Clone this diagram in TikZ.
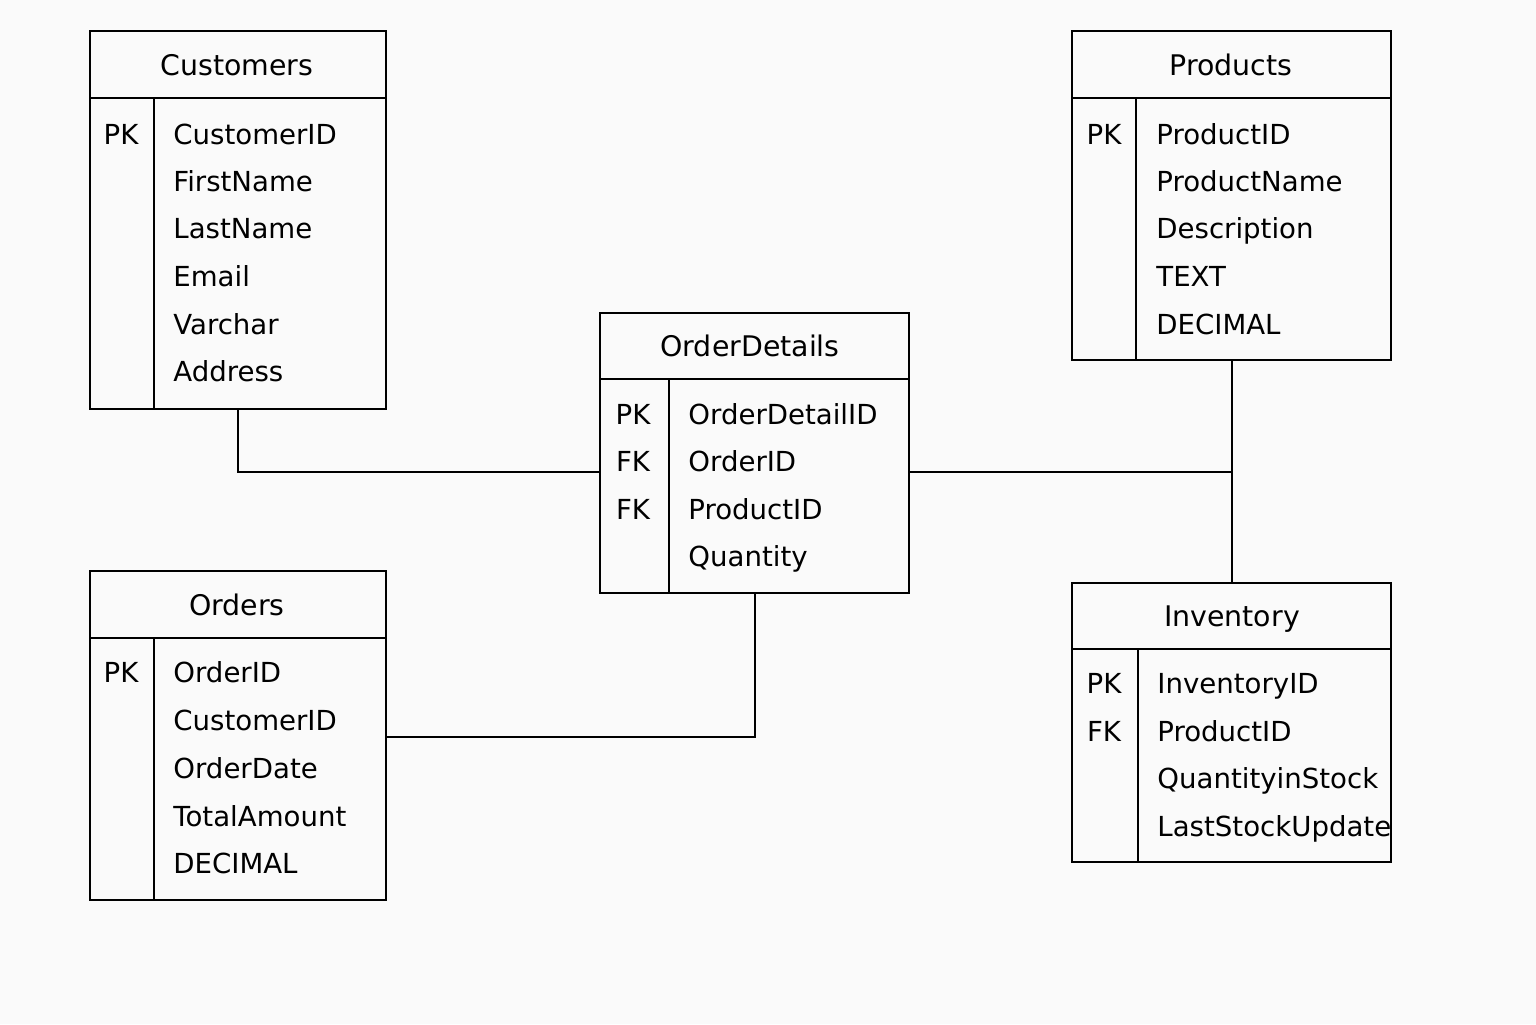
\documentclass[tikz,border=0pt]{standalone}
\usepackage{fontspec}
\setmainfont{DejaVu Sans}
\usepackage{tikz}
\usetikzlibrary{positioning, calc}

\begin{document}
\begin{tikzpicture}[x=0.5pt, y=-0.5pt,
	table/.style={rectangle, draw, line width=1pt, inner sep=0pt, anchor=north west},
	title/.style={anchor=base, inner sep=0pt, font=\fontsize{14.2}{16}\selectfont},
	keyname/.style={anchor=base, inner sep=0pt, font=\fontsize{13.8}{16}\selectfont},
	field/.style={anchor=base west, inner sep=0pt, font=\fontsize{13.8}{16}\selectfont},
	rule/.style={line width=1pt},
	link/.style={line width=1pt}]
			\fill[black!2] (0,0) rectangle (1536,1024);
			\useasboundingbox (0,0) rectangle (1536,1024);
			
			% Customers
			\node[table, minimum width=148pt, minimum height=189pt] (cust) at (89,30) {};
			\draw[rule] (89,98) -- (385,98);
			\draw[rule] (154,98) -- (154,408);
			\node[title] (custT) at (237,75.5) {Customers};
			\node[keyname] (custK1) at (121,144.5) {PK};
			\node[field] (custF1) at (173,144.5) {CustomerID};
			\node[field] (custF2) at (173,191.5) {FirstName};
			\node[field] (custF3) at (173,238.5) {LastName};
			\node[field] (custF4) at (173,286.5) {Email};
			\node[field] (custF5) at (173,334.5) {Varchar};
			\node[field] (custF6) at (173,381.5) {Address};
			
			% Products
			\node[table, minimum width=159.5pt, minimum height=164.5pt] (prod) at (1071,30) {};
			\draw[rule] (1071,98) -- (1390,98);
			\draw[rule] (1136,98) -- (1136,359);
			\node[title] (prodT) at (1231,75.5) {Products};
			\node[keyname] (prodK1) at (1104,144.5) {PK};
			\node[field] (prodF1) at (1156,144.5) {ProductID};
			\node[field] (prodF2) at (1156,191.5) {ProductName};
			\node[field] (prodF3) at (1156,238.5) {Description};
			\node[field] (prodF4) at (1156,286.5) {TEXT};
			\node[field] (prodF5) at (1156,334.5) {DECIMAL};
			
			% OrderDetails
			\node[table, minimum width=154.5pt, minimum height=140pt] (od) at (599,312) {};
			\draw[rule] (599,379) -- (908,379);
			\draw[rule] (669,379) -- (669,592);
			\node[title] (odT) at (750,356.5) {OrderDetails};
			\node[keyname] (odK1) at (633,424.5) {PK};
			\node[keyname] (odK2) at (633,471.5) {FK};
			\node[keyname] (odK3) at (633,519.5) {FK};
			\node[field] (odF1) at (688,424.5) {OrderDetailID};
			\node[field] (odF2) at (688,471.5) {OrderID};
			\node[field] (odF3) at (688,519.5) {ProductID};
			\node[field] (odF4) at (688,566.5) {Quantity};
			
			% Orders
			\node[table, minimum width=148pt, minimum height=164.5pt] (ord) at (89,570) {};
			\draw[rule] (89,638) -- (385,638);
			\draw[rule] (154,638) -- (154,899);
			\node[title] (ordT) at (237,615.5) {Orders};
			\node[keyname] (ordK1) at (121,682.5) {PK};
			\node[field] (ordF1) at (173,682.5) {OrderID};
			\node[field] (ordF2) at (173,730.5) {CustomerID};
			\node[field] (ordF3) at (173,778.5) {OrderDate};
			\node[field] (ordF4) at (173,826.5) {TotalAmount};
			\node[field] (ordF5) at (173,873.5) {DECIMAL};
			
			% Inventory
			\node[table, minimum width=159.5pt, minimum height=139.5pt] (inv) at (1071,582) {};
			\draw[rule] (1071,649) -- (1390,649);
			\draw[rule] (1138,649) -- (1138,861);
			\node[title] (invT) at (1232,626.5) {Inventory};
			\node[keyname] (invK1) at (1104,693.5) {PK};
			\node[keyname] (invK2) at (1104,741.5) {FK};
			\node[field] (invF1) at (1157,693.5) {InventoryID};
			\node[field] (invF2) at (1157,741.5) {ProductID};
			\node[field] (invF3) at (1157,788.5) {QuantityinStock};
			\node[field] (invF4) at (1157,836.5) {LastStockUpdate};
			
			% relations
			\coordinate (odL) at (599,472);
			\coordinate (odR) at (908,472);
			\coordinate (ordR) at (385,737);
			\draw[link] (cust.south) |- (odL);
			\draw[link] (prod.south) -- (inv.north);
			\draw[link] (odR) -- (prod.south |- odR);
			\draw[link] (od.south) |- (ordR);
			
\end{tikzpicture}
\end{document}
